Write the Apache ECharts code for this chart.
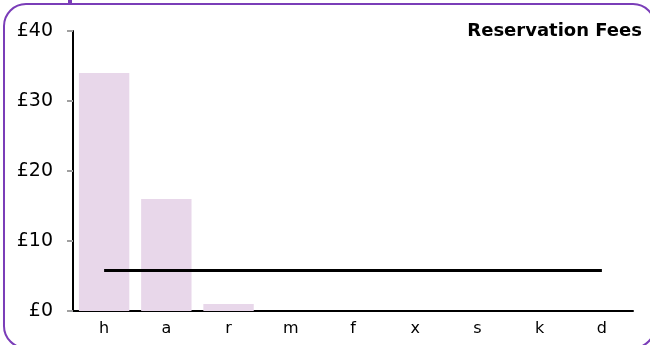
<!DOCTYPE html>
<html><head><meta charset="utf-8">
<script src="https://cdn.jsdelivr.net/npm/echarts@6/dist/echarts.min.js"></script>
<style>html,body{margin:0;padding:0;background:#fff}#c{width:650px;height:345px}</style>
</head><body><div id="c"></div>
<script>
const categories = ['h','a','r','m','f','x','s','k','d'];
const feeValues = [34, 16, 1, 0, 0, 0, 0, 0, 0];
const averageValues = [5.8, 5.8, 5.8, 5.8, 5.8, 5.8, 5.8, 5.8, 5.8];
const yTicks = [0, 10, 20, 30, 40];
const titleText = 'Reservation Fees';

const chart = echarts.init(document.getElementById('c'), null, {renderer: 'canvas'});
chart.setOption({
  animation: false,
  textStyle: {fontFamily: 'DejaVu Sans'},
  title: {text: titleText, right: 3, top: 17, textStyle: {fontFamily: 'DejaVu Sans', fontSize: 18, fontWeight: 'bold', color: '#000'}},
  graphic: [
    {type: 'rect', shape: {x: 4, y: 4, width: 651, height: 344, r: 22}, style: {fill: 'none', stroke: '#7a3db8', lineWidth: 2}, z: 100},
    {type: 'rect', shape: {x: 68, y: 0, width: 4, height: 4}, style: {fill: '#7a3db8'}, z: 100}
  ],
  grid: {left: 73, top: 31, right: 17, bottom: 34, containLabel: false},
  xAxis: {
    type: 'category', data: categories,
    axisLine: {lineStyle: {color: '#000', width: 2}},
    axisTick: {show: false},
    axisLabel: {color: '#000', fontSize: 16, margin: 10, fontFamily: 'DejaVu Sans'}
  },
  yAxis: {
    type: 'value', min: yTicks[0], max: yTicks[yTicks.length - 1], interval: 10,
    axisLine: {show: true, lineStyle: {color: '#000', width: 2}},
    axisTick: {show: true, length: 6, lineStyle: {color: '#a0a0a0', width: 2}},
    splitLine: {show: false},
    axisLabel: {color: '#000', fontSize: 19, margin: 20, fontFamily: 'DejaVu Sans', formatter: v => '£' + v}
  },
  series: [
    {type: 'bar', data: feeValues, barCategoryGap: '19%', itemStyle: {color: '#e8d7ea'}},
    {type: 'line', data: averageValues, symbol: 'none', lineStyle: {color: '#000', width: 3}, z: 5}
  ]
});
</script></body></html>
